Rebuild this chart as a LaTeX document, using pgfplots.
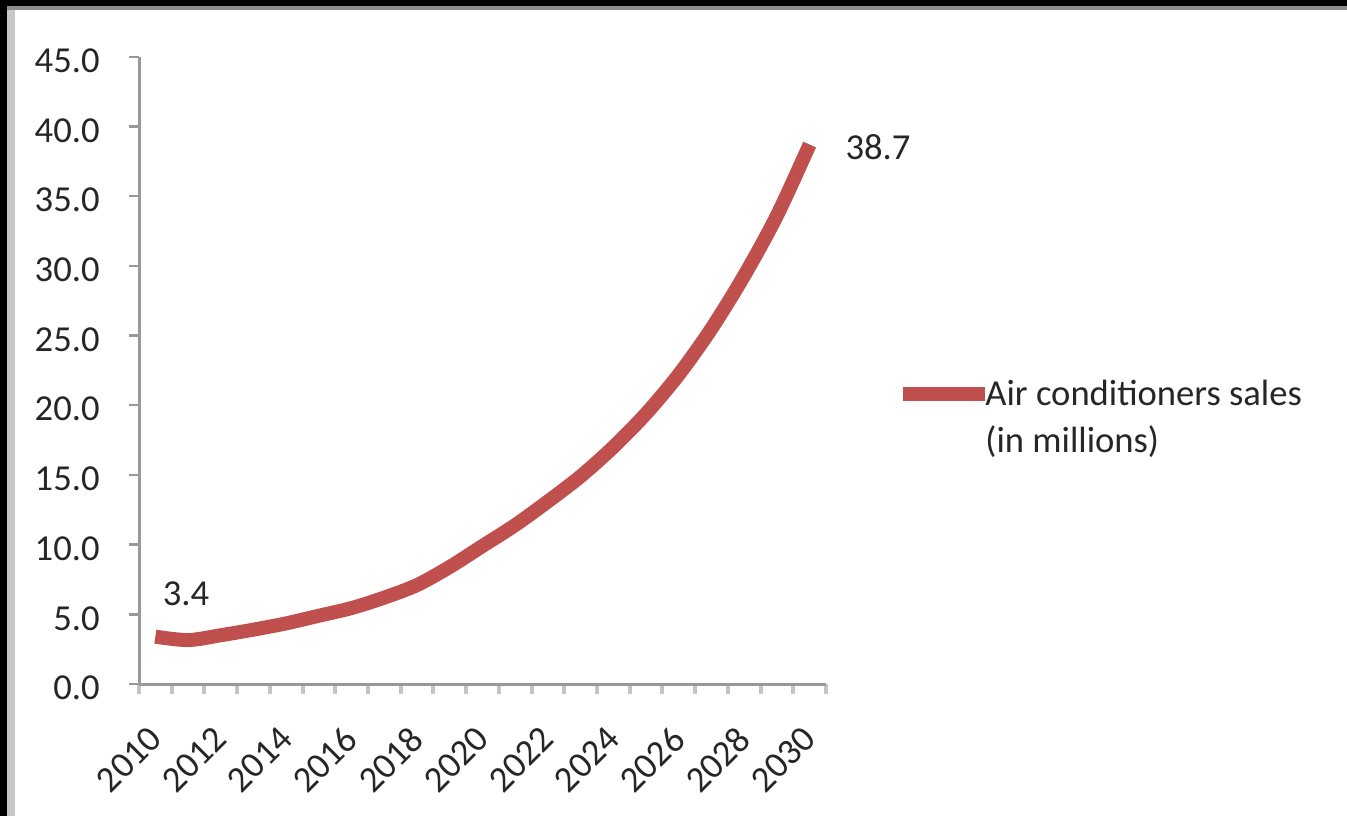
\documentclass[border=0pt]{standalone}
\usepackage{fontspec}
\setmainfont{Carlito}
\usepackage{pgfplots}
\pgfplotsset{compat=1.18}
\definecolor{acred}{HTML}{C0504D}
\definecolor{axgray}{HTML}{999999}
\definecolor{tkgray}{HTML}{C4C4C4}
\definecolor{txt}{HTML}{262626}
\newcommand{\chfont}{\fontsize{18.3}{23.5}\selectfont}
\begin{document}
\begin{tikzpicture}
\path[use as bounding box] (0,0) rectangle (673.5pt,408pt);
\fill[white] (0,0) rectangle (673.5pt,408pt);
\fill[black!22] (3.5pt,0) rectangle (7.5pt,404.5pt);
\fill[black!45] (3.5pt,403pt) rectangle (673.5pt,405pt);
\fill[black] (0,0) rectangle (3.5pt,408pt);
\fill[black] (0,405pt) rectangle (673.5pt,408pt);
\begin{axis}[
  at={(69.5pt,66pt)}, anchor=south west,
  scale only axis, width=343.5pt, height=313.65pt,
  xmin=2009.5, xmax=2030.5, ymin=0, ymax=45,
  clip=false,
  axis lines*=left,
  axis line style={axgray, line width=1.5pt},
  tick align=outside,
  major tick length=5pt,
  ytick={0,5,...,45},
  ytick style={axgray, line width=1.2pt},
  xtick={2009.5,2010.5,...,2030.5},
  xtick style={tkgray, line width=2pt},
  xticklabels={2010,,2012,,2014,,2016,,2018,,2020,,2022,,2024,,2026,,2028,,2030,},
  every tick label/.append style={font=\chfont, text=txt},
  xticklabel style={inner sep=0pt, xshift=8.2pt, yshift=-19.5pt, rotate=45, anchor=east},
  yticklabel style={inner sep=0pt, anchor=east, xshift=-14.5pt, yshift=-2pt},
  yticklabel={\pgfmathprintnumber[fixed, fixed zerofill, precision=1, assume math mode=true]{\tick}},
  legend cell align=left,
  legend style={at={(axis description cs:1.1019,0.4846)}, anchor=north west,
    draw=none, fill=none, inner sep=0pt, column sep=-3.5pt,
    nodes={inner sep=0pt, font=\chfont, text=txt},
    cells={align=left}},
  legend image code/.code={\draw[#1] (0pt,12pt) -- (41pt,12pt);},
]
\addplot[acred, line width=7pt, smooth, tension=0.5, line join=round] coordinates {
(2010,3.4) (2011,3.15) (2012,3.5) (2013,3.9) (2014,4.35) (2015,4.9)
(2016,5.45) (2017,6.2) (2018,7.1) (2019,8.4) (2020,9.9) (2021,11.4)
(2022,13.1) (2023,14.9) (2024,17.0) (2025,19.4) (2026,22.2) (2027,25.5)
(2028,29.3) (2029,33.6) (2030,38.7)};
\addlegendentry{Air conditioners sales\\(in millions)}
\node[font=\chfont, text=txt, inner sep=0pt] at (axis cs:2010,3.4) [xshift=15.3pt, yshift=21.5pt] {3.4};
\node[font=\chfont, text=txt, inner sep=0pt] at (axis cs:2030,38.7) [xshift=34.2pt, yshift=-1.25pt] {38.7};
\end{axis}
\end{tikzpicture}
\end{document}
